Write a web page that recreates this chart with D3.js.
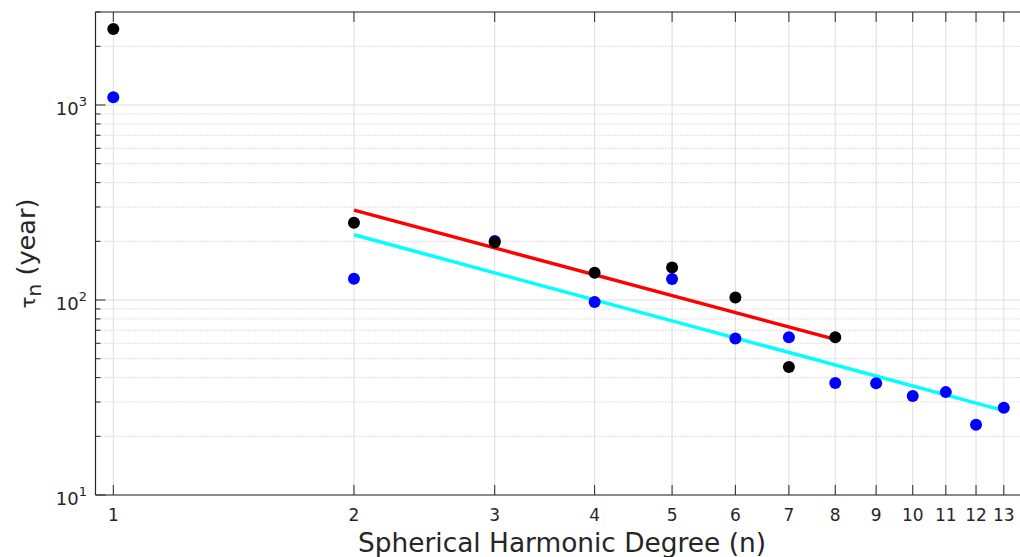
<!DOCTYPE html>
<html>
<head>
<meta charset="utf-8">
<script src="https://cdn.jsdelivr.net/npm/d3@7"></script>
<style>
  html, body { margin: 0; padding: 0; background: #fff; }
  svg { display: block; font-family: "DejaVu Sans", sans-serif; }
</style>
</head>
<body>
<svg id="chart" width="1020" height="557"></svg>
<script>
// ---- Data ----
const degreesBlack = [1, 2, 3, 4, 5, 6, 7, 8];
const tauBlack     = [2455, 249, 198, 138, 147, 103, 45.3, 64.4];
const degreesBlue  = [1, 2, 3, 4, 5, 6, 7, 8, 9, 10, 11, 12, 13];
const tauBlue      = [1095, 128.5, 201, 97.7, 128, 63.4, 64.4, 37.5, 37.4, 32.2, 33.7, 22.9, 28.0];
const fitRedN      = [2, 8];
const fitRedTau    = [289, 62.8];
const fitCyanN     = [2, 13];
const fitCyanTau   = [216, 27.1];
const xTicks       = [1, 2, 3, 4, 5, 6, 7, 8, 9, 10, 11, 12, 13];
const yMajorTicks  = [10, 100, 1000];
const yMinorTicks  = [20, 30, 40, 50, 60, 70, 80, 90, 200, 300, 400, 500, 600, 700, 800, 900, 2000, 3000];

// ---- Layout ----
const svg = d3.select("#chart");
const pL = 95.5, pR = 1020, pT = 12, pB = 495;
const x = d3.scaleLog().domain([0.95, 13.62]).range([pL, pR]);
const y = d3.scaleLog().domain([10, 3000]).range([pB, pT]);

const axisColor = "#262626";

// Grid
const grid = svg.append("g");
grid.append("g").selectAll("line").data(xTicks).join("line")
  .attr("x1", d => x(d)).attr("x2", d => x(d))
  .attr("y1", pT).attr("y2", pB)
  .attr("stroke", "#dedede").attr("stroke-width", 1);
grid.append("g").selectAll("line").data(yMinorTicks).join("line")
  .attr("x1", pL).attr("x2", pR)
  .attr("y1", d => y(d)).attr("y2", d => y(d))
  .attr("stroke", "#bdbdbd").attr("stroke-width", 1)
  .attr("stroke-dasharray", "1,2");
grid.append("g").selectAll("line").data(yMajorTicks).join("line")
  .attr("x1", pL).attr("x2", pR)
  .attr("y1", d => y(d)).attr("y2", d => y(d))
  .attr("stroke", "#dedede").attr("stroke-width", 1);

// Fit lines
const line = d3.line().x(d => x(d[0])).y(d => y(d[1]));
svg.append("path").datum(d3.zip(fitCyanN, fitCyanTau))
  .attr("d", line).attr("fill", "none").attr("stroke", "#00ffff").attr("stroke-width", 3.5);
svg.append("path").datum(d3.zip(fitRedN, fitRedTau))
  .attr("d", line).attr("fill", "none").attr("stroke", "#ff0000").attr("stroke-width", 3.5);

// Points
svg.append("g").selectAll("circle").data(d3.zip(degreesBlue, tauBlue)).join("circle")
  .attr("cx", d => x(d[0])).attr("cy", d => y(d[1])).attr("r", 6).attr("fill", "#0000ff");
svg.append("g").selectAll("circle").data(d3.zip(degreesBlack, tauBlack)).join("circle")
  .attr("cx", d => x(d[0])).attr("cy", d => y(d[1])).attr("r", 6).attr("fill", "#000000");

// Axes (ticks inside)
const axG = svg.append("g").attr("stroke", axisColor).attr("stroke-width", 1);
axG.append("g").selectAll("line").data(xTicks).join("line")
  .attr("x1", d => x(d)).attr("x2", d => x(d)).attr("y1", pB).attr("y2", pB - 10);
axG.append("g").selectAll("line").data(xTicks).join("line")
  .attr("x1", d => x(d)).attr("x2", d => x(d)).attr("y1", pT).attr("y2", pT + 10);
axG.append("g").selectAll("line").data(yMajorTicks).join("line")
  .attr("x1", pL).attr("x2", pL + 10).attr("y1", d => y(d)).attr("y2", d => y(d));
axG.append("g").selectAll("line").data(yMinorTicks).join("line")
  .attr("x1", pL).attr("x2", pL + 5).attr("y1", d => y(d)).attr("y2", d => y(d));
svg.append("line").attr("x1", pL).attr("x2", pR).attr("y1", pB).attr("y2", pB)
  .attr("stroke", axisColor).attr("stroke-width", 1.2);
svg.append("line").attr("x1", pL).attr("x2", pR).attr("y1", pT).attr("y2", pT)
  .attr("stroke", axisColor).attr("stroke-width", 1.2);
svg.append("line").attr("x1", pL).attr("x2", pL).attr("y1", pT).attr("y2", pB)
  .attr("stroke", axisColor).attr("stroke-width", 1.2);

// x tick labels
svg.append("g").selectAll("text").data(xTicks).join("text")
  .attr("x", d => x(d)).attr("y", 521)
  .attr("text-anchor", "middle").attr("font-size", 17).attr("fill", axisColor)
  .text(d => d);

// y tick labels 10^k
const yl = svg.append("g").selectAll("text").data(yMajorTicks).join("text")
  .attr("x", 87).attr("y", d => y(d) + 10)
  .attr("text-anchor", "end").attr("font-size", 18).attr("fill", axisColor);
yl.append("tspan").text("10");
yl.append("tspan").attr("font-size", 13).attr("dy", -9).text(d => Math.round(Math.log10(d)));

// x label
svg.append("text").attr("x", 562).attr("y", 552)
  .attr("text-anchor", "middle").attr("font-size", 26.4).attr("fill", axisColor)
  .text("Spherical Harmonic Degree (n)");

// y label
const ylab = svg.append("text")
  .attr("transform", `translate(35, ${(pT + pB) / 2}) rotate(-90)`)
  .attr("text-anchor", "middle").attr("font-size", 25.6).attr("fill", axisColor);
ylab.append("tspan").attr("font-size", 20).text("τ");
ylab.append("tspan").attr("font-size", 20).attr("dy", 6).text("n");
ylab.append("tspan").attr("dy", -6).text(" (year)");
</script>
</body>
</html>
